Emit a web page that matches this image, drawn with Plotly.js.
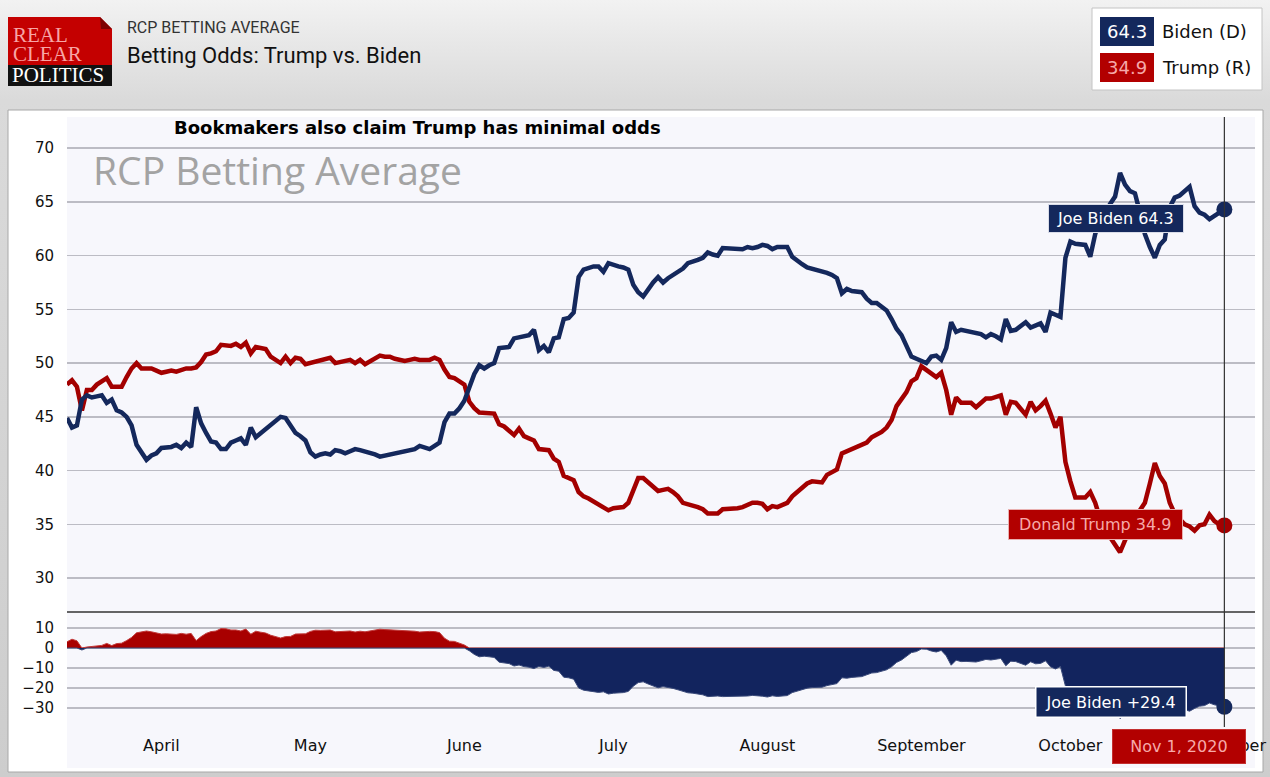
<!DOCTYPE html>
<html><head><meta charset="utf-8">
<script src="https://cdn.plot.ly/plotly-3.0.1.min.js"></script>
<style>
html,body{margin:0;padding:0;}
body{width:1270px;height:777px;overflow:hidden;background:linear-gradient(180deg,#f2f2f2 0px,#dadada 100px,#cdcdcd 777px);}
#chart{width:1270px;height:777px;}
</style></head><body><div id="chart"></div>
<script>
// ---- data (daily, 2020-03-13 .. 2020-11-01) ----
const startDate = '2020-03-13';
const biden = [
 // March 13-31
 44.9,44.0,44.2,46.6,47.0,46.8,46.9,47.0,46.3,46.6,45.6,45.4,45.0,44.2,42.4,41.6,41.0,41.4,41.6,
 // April
 42.1,42.1,42.2,42.4,42.1,42.6,42.2,45.9,44.4,43.5,42.7,42.6,42.0,42.0,42.6,42.8,43.0,42.4,44.0,43.1,
 43.5,43.8,44.2,44.6,45.0,44.9,44.2,43.5,43.2,42.8,
 // May
 41.7,41.3,41.5,41.6,41.5,41.9,41.8,41.6,41.8,42.0,41.9,41.8,41.7,41.5,41.3,41.4,41.5,41.6,41.6,41.7,
 41.8,42.0,42.3,42.1,42.0,42.3,42.6,44.5,45.3,45.3,45.8,
 // June
 46.5,47.8,49.0,49.8,49.5,49.8,50.0,51.4,51.4,51.5,52.3,52.4,52.5,52.6,53.1,51.2,51.6,51.0,52.3,52.4,
 54.1,54.2,54.7,58.0,58.7,58.9,59.0,59.0,58.5,59.3,
 // July
 59.1,59.0,58.9,58.7,57.3,56.6,56.2,56.9,57.5,58.0,57.5,57.9,58.2,58.5,58.8,59.3,59.4,59.6,59.8,60.3,
 60.1,60.0,60.7,60.7,60.7,60.7,60.6,60.8,60.7,60.8,61.0,
 // August
 60.9,60.6,60.8,60.8,60.8,59.9,59.5,59.2,58.9,58.8,58.7,58.5,58.4,58.2,57.9,56.5,56.9,56.7,56.6,56.6,
 56.0,55.6,55.6,55.2,54.9,54.1,53.2,52.6,51.5,50.6,50.4,
 // September
 50.2,50.0,50.6,50.7,50.3,51.4,53.8,52.9,53.1,53.0,53.0,52.9,52.7,52.4,52.7,52.5,52.2,54.1,53.0,53.1,
 53.5,53.8,53.3,53.5,53.7,52.9,54.7,54.5,54.3,59.8,
 // October
 61.3,61.1,61.0,61.0,59.9,62.0,63.5,64.0,64.8,65.5,67.7,66.6,66.0,65.8,64.0,62.0,60.8,59.8,61.0,61.5,
 64.5,65.4,65.6,66.0,66.4,64.6,64.0,63.8,63.4,63.7,64.0,
 // Nov 1
 64.3
];
const trump = [
 // March 13-31
 48.0,48.4,47.8,45.6,47.5,47.5,48.0,48.3,48.6,47.8,47.8,47.8,48.7,49.5,50.0,49.5,49.5,49.5,49.3,
 // April
 49.1,49.2,49.3,49.2,49.4,49.5,49.5,49.6,50.1,50.8,50.9,51.1,51.7,51.6,51.6,51.8,51.5,51.9,50.9,51.5,
 51.4,51.3,50.6,50.3,50.0,50.6,50.0,50.5,50.4,49.9,
 // May
 50.0,50.2,50.3,50.4,50.5,50.0,50.1,50.2,50.3,50.0,50.3,49.9,50.2,50.5,50.7,50.6,50.6,50.4,50.3,50.2,
 50.3,50.4,50.3,50.3,50.3,50.5,50.3,49.4,48.7,48.6,48.3,
 // June
 48.0,46.4,45.8,45.4,45.4,45.4,45.3,44.3,44.1,43.7,43.3,43.9,43.2,43.0,42.8,42.0,41.9,41.9,41.1,40.8,
 39.5,39.3,39.1,38.0,37.6,37.4,37.1,36.8,36.6,36.3,
 // July
 36.5,36.6,36.6,37.0,38.2,39.3,39.3,38.9,38.4,38.1,38.2,38.3,38.0,37.6,37.0,36.9,36.8,36.6,36.4,36.0,
 36.0,36.0,36.4,36.4,36.4,36.5,36.6,36.8,37.0,37.0,36.9,
 // August
 36.4,36.7,36.6,36.8,37.0,37.6,38.0,38.4,38.8,39.0,38.9,38.9,39.6,39.8,40.1,41.6,41.8,42.0,42.2,42.3,
 42.6,43.1,43.3,43.6,44.0,44.7,46.0,46.6,47.3,48.3,48.6,
 // September
 49.7,49.4,49.1,48.7,49.1,47.5,45.2,46.8,46.3,46.3,46.3,45.9,46.3,46.7,46.7,46.8,47.0,45.2,46.4,46.3,
 45.8,45.2,46.4,45.6,46.0,46.5,45.3,44.0,45.0,40.8,
 // October
 39.0,37.5,37.5,37.5,38.0,37.0,35.5,34.5,33.8,33.0,32.4,33.5,34.5,35.6,36.3,37.0,38.8,40.7,39.5,38.8,
 37.0,36.0,35.5,35.0,34.8,34.4,34.9,35.0,35.9,35.3,35.0,
 // Nov 1
 34.9
];
const monthTicks = ['2020-04-01','2020-05-01','2020-06-01','2020-07-01','2020-08-01','2020-09-01','2020-10-01','2020-11-01'];
const monthLabels = ['April','May','June','July','August','September','October','November'];
const topTicks = [30,35,40,45,50,55,60,65,70];
const bottomTicks = [10,0,-10,-20,-30];

// ---- derived ----
function dayList(start, n){
  const out=[]; const d=new Date(start+'T00:00:00Z');
  for(let i=0;i<n;i++){ out.push(d.toISOString().slice(0,10)); d.setUTCDate(d.getUTCDate()+1); }
  return out;
}
const dates = dayList(startDate, biden.length);
const spread = trump.map((t,i)=> +(t - biden[i]).toFixed(1));
const spreadPos = spread.map(v=> v>0 ? v : 0);
const spreadNeg = spread.map(v=> v<0 ? v : 0);
const last = dates.length-1;
const lastDate = dates[last], lastB = biden[last], lastT = trump[last], lastS = spread[last];

// ---- styling ----
const NAVY='#14285c', RED='#a30000', RED_BOX='#b20000', PINK='#f6a9a9';
const W=1270, H=777;
const px = p => p/W, py = p => 1 - p/H;
const F = 'DejaVu Sans, Verdana, sans-serif';
const SP = '&nbsp;';

const traces = [
  {x:dates, y:spreadPos, xaxis:'x', yaxis:'y2', type:'scatter', mode:'lines', fill:'tozeroy',
   fillcolor:'#a80000', line:{color:'#c23a3a', width:1}, hoverinfo:'skip'},
  {x:dates, y:spreadNeg, xaxis:'x', yaxis:'y2', type:'scatter', mode:'lines', fill:'tozeroy',
   fillcolor:'#12245e', line:{color:'#3a4a7a', width:1}, hoverinfo:'skip'},
  {x:dates, y:trump, xaxis:'x', yaxis:'y', type:'scatter', mode:'lines', name:'Trump (R)',
   line:{color:RED, width:4.5}},
  {x:dates, y:biden, xaxis:'x', yaxis:'y', type:'scatter', mode:'lines', name:'Biden (D)',
   line:{color:NAVY, width:4.5}},
  {x:[lastDate], y:[lastB], xaxis:'x', yaxis:'y', mode:'markers', marker:{color:NAVY, size:16}},
  {x:[lastDate], y:[lastT], xaxis:'x', yaxis:'y', mode:'markers', marker:{color:RED, size:16}},
  {x:[lastDate], y:[lastS], xaxis:'x', yaxis:'y2', mode:'markers', marker:{color:NAVY, size:16}}
];

function pathPx(pts){ return 'M' + pts.map(p=> px(p[0])+','+py(p[1])).join(' L') + ' Z'; }

const shapes = [
  // panel
  {type:'rect', xref:'paper', yref:'paper', x0:px(8), x1:px(1263), y0:py(772), y1:py(110),
   fillcolor:'#ffffff', line:{color:'#a8a8a8', width:1}, layer:'below'},
  // plot area tint
  {type:'rect', xref:'paper', yref:'paper', x0:px(67), x1:px(1255), y0:py(768), y1:py(117),
   fillcolor:'#f7f7fc', line:{width:0}, layer:'below'},
  // logo
  {type:'path', xref:'paper', yref:'paper', path:pathPx([[8,17],[100,17],[112,29],[112,67],[8,67]]),
   fillcolor:'#c40000', line:{width:0}, layer:'below'},
  {type:'path', xref:'paper', yref:'paper', path:pathPx([[100,17],[112,29],[101,29]]),
   fillcolor:'#7d0000', line:{width:0}, layer:'below'},
  {type:'rect', xref:'paper', yref:'paper', x0:px(8), x1:px(112), y0:py(86), y1:py(65),
   fillcolor:'#111111', line:{width:0}, layer:'below'},
  // legend box
  {type:'rect', xref:'paper', yref:'paper', x0:px(1092), x1:px(1262), y0:py(90), y1:py(8),
   fillcolor:'#ffffff', line:{color:'#c4c4c4', width:1}, layer:'below'},
  {type:'rect', xref:'paper', yref:'paper', x0:px(1100), x1:px(1154), y0:py(46), y1:py(17),
   fillcolor:NAVY, line:{width:0}, layer:'below'},
  {type:'rect', xref:'paper', yref:'paper', x0:px(1100), x1:px(1154), y0:py(82), y1:py(53),
   fillcolor:RED_BOX, line:{width:0}, layer:'below'},
  // separator between panes
  {type:'line', xref:'paper', yref:'paper', x0:px(67), x1:px(1255), y0:py(612), y1:py(612),
   line:{color:'#333333', width:1.5}},
  // current date line
  {type:'line', xref:'x', yref:'paper', x0:lastDate, x1:lastDate, y0:py(727), y1:py(117),
   line:{color:'#333333', width:1.2}}
];

const annotations = [
  // header
  {xref:'paper', yref:'paper', x:px(11), y:py(35), xanchor:'left', yanchor:'middle', showarrow:false,
   text:'REAL', font:{family:'Liberation Serif, serif', size:21, color:'#f7a5a5'}},
  {xref:'paper', yref:'paper', x:px(11), y:py(54), xanchor:'left', yanchor:'middle', showarrow:false,
   text:'CLEAR', font:{family:'Liberation Serif, serif', size:21, color:'#f7a5a5'}},
  {xref:'paper', yref:'paper', x:px(10), y:py(75), xanchor:'left', yanchor:'middle', showarrow:false,
   text:'POLITICS', font:{family:'Liberation Serif, serif', size:21, color:'#ffffff'}},
  {xref:'paper', yref:'paper', x:px(125), y:py(27), xanchor:'left', yanchor:'middle', showarrow:false,
   text:'RCP BETTING AVERAGE', font:{family:'Roboto, sans-serif', size:16, color:'#333333'}},
  {xref:'paper', yref:'paper', x:px(125), y:py(55), xanchor:'left', yanchor:'middle', showarrow:false,
   text:'Betting Odds: Trump vs. Biden', font:{family:'Roboto, sans-serif', size:22, color:'#111111'}},
  // legend
  {xref:'paper', yref:'paper', x:px(1127), y:py(31.5), xanchor:'center', yanchor:'middle', showarrow:false,
   text:lastB.toFixed(1), font:{family:F, size:18, color:'#ffffff'}},
  {xref:'paper', yref:'paper', x:px(1127), y:py(67.5), xanchor:'center', yanchor:'middle', showarrow:false,
   text:lastT.toFixed(1), font:{family:F, size:18, color:PINK}},
  {xref:'paper', yref:'paper', x:px(1160), y:py(31.5), xanchor:'left', yanchor:'middle', showarrow:false,
   text:'Biden (D)', font:{family:F, size:18, color:'#111111'}},
  {xref:'paper', yref:'paper', x:px(1160), y:py(67.5), xanchor:'left', yanchor:'middle', showarrow:false,
   text:'Trump (R)', font:{family:F, size:18, color:'#111111'}},
  // chart titles
  {xref:'paper', yref:'paper', x:px(172), y:py(128), xanchor:'left', yanchor:'middle', showarrow:false,
   text:'<b>Bookmakers also claim Trump has minimal odds</b>', font:{family:F, size:18, color:'#000000'}},
  {xref:'paper', yref:'paper', x:px(91), y:py(170), xanchor:'left', yanchor:'middle', showarrow:false,
   text:'RCP Betting Average', font:{family:'Open Sans, sans-serif', size:39, color:'#a3a3a3'}},
  // tooltips
  {x:lastDate, y:lastB, xref:'x', yref:'y', xanchor:'right', yanchor:'middle', showarrow:false,
   xshift:-40, yshift:-9, text:SP+'Joe Biden '+lastB.toFixed(1)+SP, bgcolor:NAVY, bordercolor:'#d9dce8',
   borderwidth:1, borderpad:4, font:{family:F, size:16, color:'#ffffff'}},
  {x:lastDate, y:lastT, xref:'x', yref:'y', xanchor:'right', yanchor:'middle', showarrow:false,
   xshift:-41, yshift:1, text:SP+'Donald Trump '+lastT.toFixed(1)+SP, bgcolor:RED_BOX, bordercolor:'#e9b0b0',
   borderwidth:1, borderpad:5, font:{family:F, size:16, color:PINK}},
  {x:lastDate, y:lastS, xref:'x', yref:'y2', xanchor:'right', yanchor:'middle', showarrow:false,
   xshift:-37, yshift:5, text:SP+'Joe Biden +'+Math.abs(lastS).toFixed(1)+SP, bgcolor:NAVY, bordercolor:'#ffffff',
   borderwidth:1.5, borderpad:5, font:{family:F, size:16, color:'#ffffff'}},
  {xref:'paper', yref:'paper', x:px(1179), y:py(746), xanchor:'center', yanchor:'middle', showarrow:false,
   text:SP+SP+'Nov 1, 2020'+SP+SP, bgcolor:RED_BOX, bordercolor:'#c43030', borderwidth:1, borderpad:7,
   font:{family:F, size:16, color:PINK}}
];

const layout = {
  width:W, height:H, margin:{l:0,r:0,t:0,b:0},
  paper_bgcolor:'rgba(0,0,0,0)', plot_bgcolor:'rgba(0,0,0,0)',
  showlegend:false, hovermode:false,
  xaxis:{domain:[px(67), px(1255)], anchor:'y2', type:'date',
    range:['2020-03-13', '2020-11-07 04:00'], tickvals:monthTicks, ticktext:monthLabels,
    showgrid:false, zeroline:false, showline:false, ticks:'', ticklabelstandoff:12,
    tickfont:{family:F, size:16, color:'#111111'}},
  yaxis:{domain:[py(612), py(117)], anchor:'x', range:[26.84, 72.9], tickvals:topTicks,
    showgrid:true, gridcolor:'#bcbcc4', gridwidth:1.5, zeroline:false, showline:false, ticks:'',
    ticklabelstandoff:12, tickfont:{family:F, size:15, color:'#111111'}},
  yaxis2:{domain:[py(722), py(612)], anchor:'x', range:[-37, 18], tickvals:bottomTicks,
    showgrid:true, gridcolor:'#bcbcc4', gridwidth:1.5, zeroline:false, showline:false, ticks:'',
    ticklabelstandoff:12, tickfont:{family:F, size:15, color:'#111111'}},
  shapes:shapes, annotations:annotations
};

Plotly.newPlot('chart', traces, layout, {displayModeBar:false, staticPlot:true});
</script>
</body></html>
